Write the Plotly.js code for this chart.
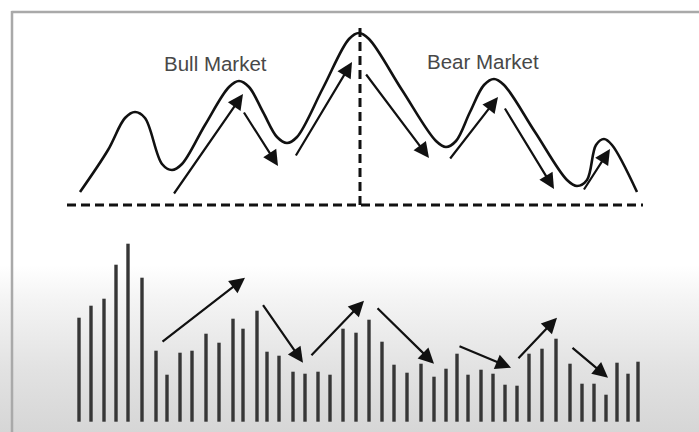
<!DOCTYPE html>
<html>
<head>
<meta charset="utf-8">
<script src="https://cdn.plot.ly/plotly-3.0.1.min.js"></script>
<style>
  html, body { margin: 0; padding: 0; }
  body { width: 699px; height: 432px; overflow: hidden;
    background: linear-gradient(to bottom, #ffffff 0px, #ffffff 265px, #f4f4f4 300px, #e2e2e2 370px, #d6d6d6 432px); }
  #chart { width: 699px; height: 432px; }
</style>
</head>
<body>
<div id="chart"></div>
<script>
// ---- price curve (time, price above baseline) ----
const curveT = [1, 29, 46, 56, 66, 83, 93, 103, 126, 150, 160, 170, 184, 198, 208, 218, 244, 270, 280, 290, 323, 357, 367, 377, 391, 405, 415, 425, 456, 488, 498, 508, 517, 525, 533, 558];
const curveP = [13, 55, 87, 93, 87, 41, 35, 41, 80, 118, 124, 118, 93, 68, 62, 68, 117, 166, 172, 166, 115, 64, 58, 64, 93, 120, 126, 120, 73, 25, 19, 25, 60, 66, 60, 13];

// ---- volume bars ----
const barT = [0, 12, 25, 37, 49, 63, 77, 88, 101, 113, 127, 140, 154, 164, 178, 188, 200, 214, 226, 239, 251, 264,
              277, 290, 303, 315, 328, 342, 355, 367, 378, 389, 402, 414, 426, 438, 450, 463, 477, 491, 503, 515, 527, 538, 549, 559];
const barV = [104, 116, 123, 157, 178, 144, 71, 47, 69, 71, 88, 79, 103, 93, 111, 70, 66, 50, 48, 50, 47, 93,
              89, 102, 80, 57, 49, 58, 45, 53, 68, 47, 52, 48, 37, 36, 68, 73, 83, 58, 38, 38, 27, 59, 48, 60];

// ---- reference lines ----
const baseT = [-12, 564];
const baseP = [0, 0];
const peakLineT = [281, 281];
const peakLineP = [0, 177];

// ---- trend arrows on price (tail -> head) ----
const priceArrowTailT = [94, 164, 216, 286, 370, 425, 504];
const priceArrowTailP = [10, 94, 48, 132, 45, 98, 14];
const priceArrowHeadT = [164, 199, 273, 350, 419, 475, 531];
const priceArrowHeadP = [111, 39, 143, 47, 108, 16, 56];

// ---- trend arrows on volume (tail -> head) ----
const volArrowTailT = [82, 183, 231, 297, 379, 438, 492];
const volArrowTailV = [79, 118, 65, 115, 76, 62, 75];
const volArrowHeadT = [166, 224, 285, 355, 432, 478, 529];
const volArrowHeadV = [144, 59, 121, 58, 54, 104, 44];

// ---- labels ----
const labelText = ["Bull Market", "Bear Market"];
const labelT = [136, 404];
const labelP = [142, 144];

const traces = [
  { type: 'bar', x: barT, y: barV, yaxis: 'y2', width: 3.4,
    marker: { color: '#363636', line: { width: 0 } }, hoverinfo: 'skip' },
  { type: 'scatter', mode: 'lines', x: baseT, y: baseP,
    line: { color: '#111', width: 3, dash: '9px,5px' }, hoverinfo: 'skip' },
  { type: 'scatter', mode: 'lines', x: peakLineT, y: peakLineP,
    line: { color: '#111', width: 3, dash: '9px,5px' }, hoverinfo: 'skip' },
  { type: 'scatter', mode: 'lines', x: curveT, y: curveP,
    line: { color: '#111', width: 2.6, shape: 'spline', smoothing: 1 }, hoverinfo: 'skip' }
];

const annotations = [];
for (let i = 0; i < priceArrowTailT.length; i++) {
  annotations.push({ x: priceArrowHeadT[i], y: priceArrowHeadP[i], xref: 'x', yref: 'y',
    ax: priceArrowTailT[i], ay: priceArrowTailP[i], axref: 'x', ayref: 'y',
    text: '', showarrow: true, arrowhead: 2, arrowsize: 1.4, arrowwidth: 2.2, arrowcolor: '#111', standoff: 0 });
}
for (let i = 0; i < volArrowTailT.length; i++) {
  annotations.push({ x: volArrowHeadT[i], y: volArrowHeadV[i], xref: 'x', yref: 'y2',
    ax: volArrowTailT[i], ay: volArrowTailV[i], axref: 'x', ayref: 'y2',
    text: '', showarrow: true, arrowhead: 2, arrowsize: 1.4, arrowwidth: 2.2, arrowcolor: '#111', standoff: 0 });
}
for (let i = 0; i < labelText.length; i++) {
  annotations.push({ x: labelT[i], y: labelP[i], xref: 'x', yref: 'y', text: labelText[i], showarrow: false,
    font: { family: 'Liberation Sans, Arial, sans-serif', size: 20.5, color: '#484848' } });
}

const layout = {
  width: 699, height: 432,
  margin: { l: 0, r: 0, t: 0, b: 0, pad: 0 },
  paper_bgcolor: 'rgba(0,0,0,0)', plot_bgcolor: 'rgba(0,0,0,0)',
  showlegend: false,
  xaxis: { range: [-79, 620], visible: false, fixedrange: true },
  yaxis: { domain: [0, 1], range: [-227, 205], visible: false, fixedrange: true },
  yaxis2: { domain: [0, 1], range: [-10.3, 421.7], overlaying: 'y', visible: false, fixedrange: true },
  annotations: annotations,
  shapes: [
    { type: 'line', xref: 'paper', yref: 'paper', x0: 11.5 / 699, x1: 1, y0: 1 - 12 / 432, y1: 1 - 12 / 432,
      line: { color: '#a9a9a9', width: 2.5 } },
    { type: 'line', xref: 'paper', yref: 'paper', x0: 12 / 699, x1: 12 / 699, y0: 0, y1: 1 - 11 / 432,
      line: { color: '#a9a9a9', width: 2.5 } }
  ]
};

Plotly.newPlot('chart', traces, layout, { staticPlot: true, displayModeBar: false });
</script>
</body>
</html>
